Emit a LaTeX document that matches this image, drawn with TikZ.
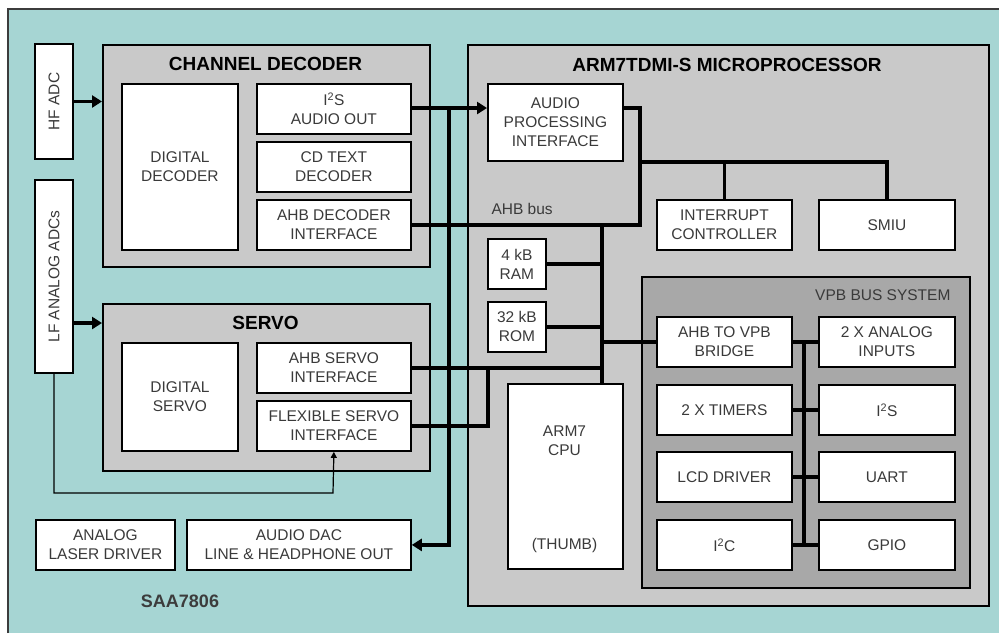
\documentclass[tikz,border=0pt]{standalone}
\usepackage{fontspec}
\setmainfont{Liberation Sans}
\usepackage{tikz}
\usetikzlibrary{arrows.meta,positioning}
\definecolor{ChipBG}   {HTML}{A6D5D3}
\definecolor{PanelGrey}{HTML}{C9C9C9}
\definecolor{VpbGrey}  {HTML}{A8A8A8}
\definecolor{LabelText}{HTML}{3A3A3A}
\definecolor{EdgeDark} {HTML}{3C3C3C}
\tikzset{
  block/.style={draw=black,line width=1.8pt,fill=white,text=LabelText,
    font=\fontsize{15.5}{19}\selectfont,align=center,inner sep=0pt,anchor=north west},
  panel/.style={draw=black,line width=1.8pt,fill=PanelGrey,inner sep=0pt,anchor=north west},
  paneltitle/.style={font=\bfseries\fontsize{19}{22}\selectfont,text=black},
  plain/.style={font=\fontsize{15.5}{19}\selectfont,text=LabelText,align=center},
  bus/.style={line width=3.4pt},
  busarrow/.style={bus,-{Triangle[length=10pt,width=12pt]}},
  wire/.style={line width=1.2pt,-{Triangle[length=6pt,width=6pt]}}
}
\begin{document}
\begin{tikzpicture}[x=1pt,y=-1pt]
  \useasboundingbox (0,0) rectangle (999,633);
  % chip background
  \fill[ChipBG] (8,9) rectangle (999,633);
  \draw[EdgeDark,line width=2pt] (8,633) -- (8,9) -- (999,9);

  % panels
  \node[panel,minimum width=327,minimum height=222] (chdec) at (102,44) {};
  \node[paneltitle] (chdectitle) at (265.5,64) {CHANNEL DECODER};
  \node[panel,minimum width=327,minimum height=167] (servo) at (102,303) {};
  \node[paneltitle] (servotitle) at (265.5,323) {SERVO};
  \node[panel,minimum width=521,minimum height=561] (arm) at (467,44) {};
  \node[paneltitle] (armtitle) at (727,65) {ARM7TDMI-S MICROPROCESSOR};
  \node[panel,fill=VpbGrey,minimum width=328,minimum height=311] (vpb) at (641,276) {};
  \node[plain,anchor=east] (vpbtitle) at (954,295) {VPB BUS SYSTEM};

  % converters
  \node[block,anchor=center,rotate=90,minimum width=115,minimum height=38] (hfadc) at (54,101.5) {HF ADC};
  \node[block,anchor=center,rotate=90,minimum width=193,minimum height=38] (lfadc) at (54,276.5) {LF ANALOG ADCs};

  % channel decoder
  \node[block,minimum width=116,minimum height=166] (digdec) at (121,83) {DIGITAL\\DECODER};
  \node[block,minimum width=154,minimum height=50] (i2sout) at (256,83) {I\textsuperscript{2}S\\AUDIO OUT};
  \node[block,minimum width=154,minimum height=50] (cdtext) at (256,141) {CD TEXT\\DECODER};
  \node[block,minimum width=154,minimum height=50] (ahbdec) at (256,199) {AHB DECODER\\INTERFACE};

  % servo
  \node[block,minimum width=116,minimum height=108] (digservo) at (121,342) {DIGITAL\\SERVO};
  \node[block,minimum width=154,minimum height=50] (ahbservo) at (256,342) {AHB SERVO\\INTERFACE};
  \node[block,minimum width=154,minimum height=50] (flexservo) at (256,400) {FLEXIBLE SERVO\\INTERFACE};

  % bottom row
  \node[block,minimum width=139,minimum height=50] (laser) at (35,519) {ANALOG\\LASER DRIVER};
  \node[block,minimum width=224,minimum height=50] (dac) at (186,519) {AUDIO DAC\\LINE \& HEADPHONE OUT};
  \node[font=\bfseries\fontsize{18}{20}\selectfont,text=EdgeDark] (chipname) at (180,601) {SAA7806};

  % microprocessor
  \node[block,minimum width=135,minimum height=77] (api) at (487,83) {AUDIO\\PROCESSING\\INTERFACE};
  \node[plain,anchor=west] (ahblabel) at (488,209) {AHB bus};
  \node[block,minimum width=135,minimum height=50] (irq) at (656,199) {INTERRUPT\\CONTROLLER};
  \node[block,minimum width=136,minimum height=50] (smiu) at (818,199) {SMIU};
  \node[block,minimum width=58,minimum height=50] (ram) at (487,238) {4 kB\\RAM};
  \node[block,minimum width=58,minimum height=50] (rom) at (487,301) {32 kB\\ROM};
  \node[block,minimum width=115,minimum height=185] (cpu) at (507,383) {};
  \node[plain] (cpulbl) at (564.5,441) {ARM7\\CPU};
  \node[plain] (thumblbl) at (564.5,545) {(THUMB)};

  % vpb peripherals
  \node[block,minimum width=135,minimum height=50] (bridge) at (656,316) {AHB TO VPB\\BRIDGE};
  \node[block,minimum width=136,minimum height=50] (anain) at (818,316) {2 X ANALOG\\INPUTS};
  \node[block,minimum width=135,minimum height=50] (timers) at (656,384) {2 X TIMERS};
  \node[block,minimum width=136,minimum height=50] (i2sv) at (818,384) {I\textsuperscript{2}S};
  \node[block,minimum width=135,minimum height=50] (lcd) at (656,451) {LCD DRIVER};
  \node[block,minimum width=136,minimum height=50] (uart) at (818,451) {UART};
  \node[block,minimum width=135,minimum height=50] (i2c) at (656,519) {I\textsuperscript{2}C};
  \node[block,minimum width=136,minimum height=50] (gpio) at (818,519) {GPIO};

  % bus points
  \coordinate (tap) at (449,108);
  \coordinate (ahbtop) at (640,108);
  \coordinate (prbus) at (640,162);
  \coordinate (ahbv) at (602,224);
  \coordinate (flexup) at (488,367);
  \coordinate (vpbv) at (804,341);
  \coordinate (fbk) at (333,493);

  % inputs
  \draw[busarrow] (hfadc.south) -- (hfadc.south -| chdec.west);
  \draw[busarrow] (lfadc.south |- servotitle) -- (servotitle -| servo.west);
  \draw[wire] (lfadc.west) |- (fbk) -- (flexservo.south);

  % audio path
  \draw[busarrow] (i2sout.east |- tap) -- (tap -| api.west);
  \draw[busarrow] (tap) |- (dac.east);

  % AHB bus
  \draw[bus] (ahbdec.east) -| (ahbtop) -- (ahbtop -| api.east);
  \draw[bus] (prbus) -| (smiu.north);
  \draw[bus] (irq.north) -- (irq.north |- prbus);
  \draw[bus] (ahbv) -- (ahbv |- cpu.north);
  \draw[bus] (ram.east) -- (ram.east -| ahbv);
  \draw[bus] (rom.east) -- (rom.east -| ahbv);
  \draw[bus] (ahbservo.east) -- (ahbservo.east -| ahbv);
  \draw[bus] (flexservo.east) -| (flexup);
  \draw[bus] (bridge.west -| ahbv) -- (bridge.west);

  % VPB bus
  \draw[bus] (vpbv) -- (vpbv |- i2c.east);
  \draw[bus] (bridge.east) -- (anain.west);
  \draw[bus] (timers.east) -- (i2sv.west);
  \draw[bus] (lcd.east) -- (uart.west);
  \draw[bus] (i2c.east) -- (gpio.west);
\end{tikzpicture}
\end{document}
